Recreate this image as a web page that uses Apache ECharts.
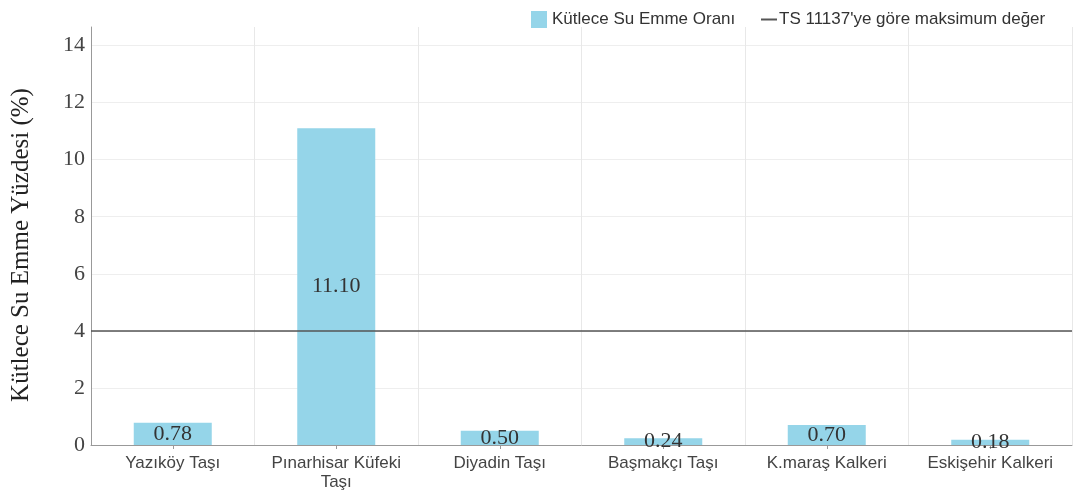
<!DOCTYPE html>
<html>
<head>
<meta charset="utf-8">
<script src="https://cdn.jsdelivr.net/npm/echarts@6/dist/echarts.min.js"></script>
<style>html,body{margin:0;padding:0;background:#fff}#c{width:1082px;height:495px}</style>
</head>
<body>
<div id="c"></div>
<script>
const categories = ['Yazıköy Taşı', 'Pınarhisar Küfeki Taşı', 'Diyadin Taşı', 'Başmakçı Taşı', 'K.maraş Kalkeri', 'Eskişehir Kalkeri'];
const absorption = [0.78, 11.10, 0.50, 0.24, 0.70, 0.18];
const limitValue = 4;
const barName = 'Kütlece Su Emme Oranı';
const lineName = "TS 11137'ye göre maksimum değer";
const yTitle = 'Kütlece Su Emme Yüzdesi (%)';

function wrapLabel(s) {
  if (s.length <= 18) return s;
  const i = s.lastIndexOf(' ', 18);
  return i > 0 ? s.slice(0, i) + '\n' + s.slice(i + 1) : s;
}

const chart = echarts.init(document.getElementById('c'));
chart.setOption({
  animation: false,
  grid: { left: 91, right: 10, top: 27, bottom: 50 },
  legend: [
    { data: [barName], left: 526, top: 6, itemWidth: 16, itemHeight: 17, icon: 'rect',
      textStyle: { fontFamily: 'Liberation Sans', fontSize: 17, color: '#333' } },
    { data: [lineName], left: 756, top: 6, itemWidth: 16, itemHeight: 2, icon: 'rect',
      textStyle: { fontFamily: 'Liberation Sans', fontSize: 17, color: '#333', padding: [0, 0, 0, -3] } }
  ],
  xAxis: {
    type: 'category',
    data: categories,
    axisLine: { lineStyle: { color: '#999' } },
    axisTick: { show: true, alignWithLabel: true, length: 4, lineStyle: { color: '#999' } },
    axisLabel: { fontFamily: 'Liberation Sans', fontSize: 17, color: '#444', margin: 9,
      lineHeight: 19, interval: 0, formatter: wrapLabel },
    splitLine: { show: true, lineStyle: { color: '#e8e8e8' } }
  },
  yAxis: {
    type: 'value',
    min: 0, max: 14.65, interval: 2,
    name: yTitle,
    nameLocation: 'middle',
    nameGap: 57,
    nameTextStyle: { fontFamily: 'Liberation Serif', fontSize: 25, color: '#222', padding: [0, 18, 0, 0] },
    axisLine: { show: true, lineStyle: { color: '#999' } },
    axisTick: { show: false },
    axisLabel: { fontFamily: 'Liberation Serif', fontSize: 22, color: '#444', margin: 6, showMaxLabel: false,
      formatter: v => String(Math.round(v)) },
    splitLine: { show: true, lineStyle: { color: ['#eeeeee','#eeeeee','#eeeeee','#eeeeee','#eeeeee','#eeeeee','#eeeeee','#eeeeee','rgba(0,0,0,0)'] } }
  },
  series: [
    {
      name: barName,
      type: 'bar',
      data: absorption,
      barWidth: 78,
      itemStyle: { color: '#95d5e9' },
      label: { show: true, position: 'inside', fontFamily: 'Liberation Serif', fontSize: 22, color: '#333',
        formatter: p => p.value.toFixed(2) }
    },
    {
      name: lineName,
      type: 'line',
      data: [],
      color: '#555',
      lineStyle: { color: '#555' },
      markLine: {
        silent: true,
        symbol: 'none',
        label: { show: false },
        lineStyle: { color: '#555', width: 1.5, type: 'solid' },
        data: [{ yAxis: limitValue }]
      }
    }
  ]
});
</script>
</body>
</html>
